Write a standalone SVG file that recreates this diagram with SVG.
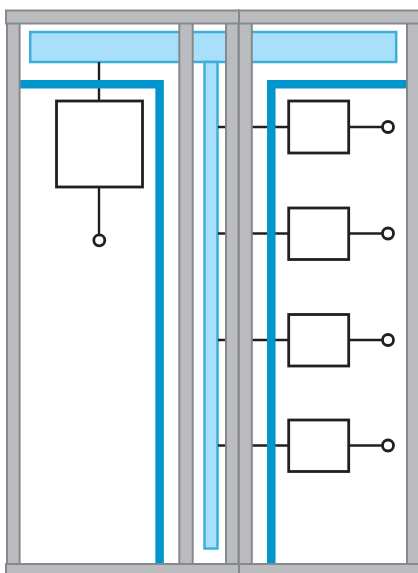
<svg xmlns="http://www.w3.org/2000/svg" width="418" height="573" viewBox="0 0 418 573">
<style>
.frame{fill:#bbbcc0;stroke:#87888c;stroke-width:2}
.bus{fill:#a8dffb;stroke:#3cafd8;stroke-width:2.5}
.rail{fill:none;stroke:#0096cd;stroke-width:8.5;stroke-linecap:butt}
.wire{fill:none;stroke:#231f20;stroke-width:2.4}
.box{fill:#fff;stroke:#231f20;stroke-width:2.8}
.term{fill:#fff;stroke:#231f20;stroke-width:2.8}
</style>
<rect width="418" height="573" fill="#fff"/>
<g id="bus">
<rect class="bus" x="30.200" y="32" width="366" height="30"/>
<rect class="bus" x="204.500" y="62" width="13" height="486.500"/>
</g>
<g id="connectors">
<path class="wire" d="M99 62V101M99 187V235"/>
<path class="wire" d="M218 127H225M252 127H288.500M349 127H382.500"/>
<path class="wire" d="M218 233.500H225M252 233.500H288.500M349 233.500H382.500"/>
<path class="wire" d="M218 340H225M252 340H288.500M349 340H382.500"/>
<path class="wire" d="M218 445.500H225M252 445.500H288.500M349 445.500H382.500"/>
</g>
<g id="rails">
<path class="rail" d="M20 84.300H159.600V563"/>
<path class="rail" d="M406 84.300H271.300V563"/>
</g>
<g id="frame">
<rect class="frame" x="7" y="23" width="12.600" height="541"/>
<rect class="frame" x="179.300" y="23" width="13.400" height="541"/>
<rect class="frame" x="226" y="23" width="12.600" height="541"/>
<rect class="frame" x="238.800" y="23" width="13" height="541"/>
<rect class="frame" x="407" y="23" width="13" height="541"/>
<rect class="frame" x="6" y="10.500" width="233" height="13"/>
<rect class="frame" x="239" y="10.500" width="181" height="13"/>
<rect class="frame" x="6" y="564" width="233" height="11"/>
<rect class="frame" x="239" y="564" width="181" height="11"/>
</g>
<g id="node-main"><rect class="box" x="56.500" y="101" width="86" height="86"/><circle class="term" cx="99.300" cy="240.300" r="5.500"/></g>
<g id="node-1"><rect class="box" x="288.700" y="101" width="60" height="52"/><circle class="term" cx="388" cy="127" r="5.500"/></g>
<g id="node-2"><rect class="box" x="288.700" y="208" width="60" height="51.500"/><circle class="term" cx="388" cy="233.500" r="5.500"/></g>
<g id="node-3"><rect class="box" x="288.700" y="314.500" width="60" height="51.500"/><circle class="term" cx="388" cy="340" r="5.500"/></g>
<g id="node-4"><rect class="box" x="288.700" y="420" width="60" height="51.500"/><circle class="term" cx="388" cy="445.500" r="5.500"/></g>
</svg>
